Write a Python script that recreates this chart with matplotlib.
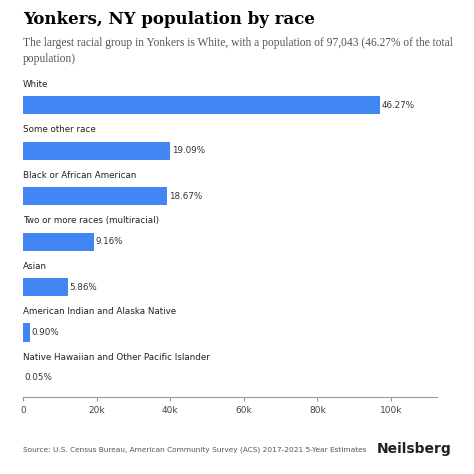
import matplotlib.pyplot as plt

categories = ["White", "Some other race", "Black or African American", "Two or more races (multiracial)",
              "Asian", "American Indian and Alaska Native", "Native Hawaiian and Other Pacific Islander"]
values = [97043, 40038, 39157, 19211, 12290, 1888, 105]
pct_labels = ["46.27%", "19.09%", "18.67%", "9.16%", "5.86%", "0.90%", "0.05%"]
xticks = [0, 20000, 40000, 60000, 80000, 100000]
xticklabels = ["0", "20k", "40k", "60k", "80k", "100k"]

fig = plt.figure(figsize=(4.74, 4.74), dpi=100)
ax = fig.add_axes([23/474, 1-397/474, (437-23)/474, (397-78)/474])
n = len(categories)
ys = list(range(n))
colors = ["#4286f4"]*6 + ["#a8e0c8"]
ax.barh(ys, values, height=0.4, color=colors)
for y, v, c, p in zip(ys, values, categories, pct_labels):
    ax.text(0, y-0.36, c, fontsize=6.3, color="#222", va="bottom", ha="left")
    ax.text(v+400, y, p, fontsize=6.3, color="#333", va="center", ha="left")
ax.set_ylim(n-1+0.42, -0.6)
ax.set_xlim(0, 112500)
ax.set_yticks([])
ax.set_xticks(xticks)
ax.set_xticklabels(xticklabels, fontsize=6.5, color="#444")
ax.tick_params(axis="x", length=3, color="#999")
for s in ["top", "right", "left"]:
    ax.spines[s].set_visible(False)
ax.spines["bottom"].set_color("#999")

fig.text(23/474, 1-20/474, "Yonkers, NY population by race", fontsize=12, fontweight="bold",
         family="DejaVu Serif", va="center")
fig.text(23/474, 1-51/474, "The largest racial group in Yonkers is White, with a population of 97,043 (46.27% of the total\npopulation)",
         fontsize=8.3, family="Liberation Serif", color="#555", va="center", linespacing=1.5)
fig.text(23/474, 1-450/474, "Source: U.S. Census Bureau, American Community Survey (ACS) 2017-2021 5-Year Estimates",
         fontsize=5.3, color="#555", va="center")
fig.text(451/474, 1-449/474, "Neilsberg", fontsize=10, fontweight="bold", color="#222", ha="right", va="center")
fig.savefig("out.png", dpi=100, facecolor="white")
